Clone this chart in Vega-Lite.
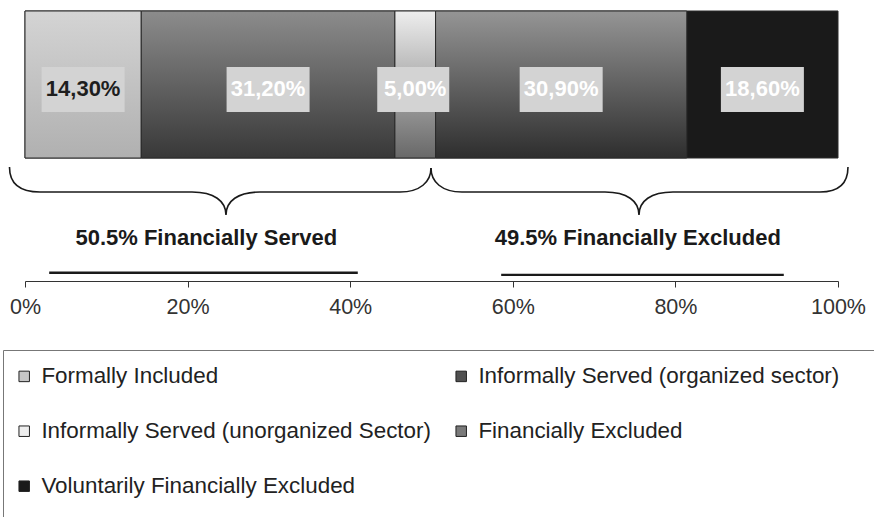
{
  "$schema": "https://vega.github.io/schema/vega-lite/v6.json",
  "width": 813,
  "height": 281,
  "autosize": {"type": "none"},
  "padding": {"left": 25, "top": 0, "right": 36, "bottom": 236},
  "background": "white",
  "config": {"view": {"stroke": null}, "font": "Liberation Sans"},
  "datasets": {
    "segments": [
      {"category": "Formally Included", "value": 14.3},
      {"category": "Informally Served (organized sector)", "value": 31.2},
      {"category": "Informally Served (unorganized Sector)", "value": 5.0},
      {"category": "Financially Excluded", "value": 30.9},
      {"category": "Voluntarily Financially Excluded", "value": 18.6}
    ],
    "braces": [
      {"label": "50.5% Financially Served", "from": 0, "to": 50.5},
      {"label": "49.5% Financially Excluded", "from": 50.5, "to": 100}
    ]
  },
  "data": {"name": "segments"},
  "transform": [
    {"window": [{"op": "row_number", "as": "idx"}]},
    {"stack": "value", "groupby": [], "sort": [{"field": "idx", "order": "ascending"}], "as": ["start", "end"]},
    {"calculate": "(datum.start + datum.end) / 2", "as": "mid"},
    {"calculate": "replace(format(datum.value, '.2f'), '.', ',') + '%'", "as": "label"},
    {"calculate": "'All'", "as": "group"}
  ],
  "layer": [
    {
      "mark": {"type": "bar", "stroke": "#2a2a2a", "strokeWidth": 1},
      "encoding": {
        "x": {
          "field": "start", "type": "quantitative",
          "scale": {"domain": [0, 100], "nice": false, "zero": false},
          "axis": {
            "values": [0, 20, 40, 60, 80, 100],
            "labelExpr": "datum.value + '%'",
            "title": null, "grid": false,
            "domainColor": "#333333", "tickColor": "#333333", "tickSize": 6,
            "labelFontSize": 21.5, "labelColor": "#333333", "labelPadding": 9,
            "labelFont": "Liberation Sans", "labelFlush": false
          }
        },
        "x2": {"field": "end"},
        "y": {
          "field": "group", "type": "nominal",
          "scale": {"range": [11, 158], "paddingInner": 0, "paddingOuter": 0},
          "axis": null
        },
        "color": {
          "field": "category", "type": "nominal",
          "scale": {
            "domain": ["Formally Included", "Informally Served (organized sector)", "Informally Served (unorganized Sector)", "Financially Excluded", "Voluntarily Financially Excluded"],
            "range": ["#c6c6c6", "#505050", "#eeeeee", "#7a7a7a", "#1a1a1a"]
          },
          "legend": {
            "orient": "none", "legendX": -22, "legendY": 350,
            "direction": "horizontal", "columns": 2, "gridAlign": "all",
            "title": [" ", " ", " ", " "],
            "titleOrient": "right", "titleFontSize": 10, "titleLineHeight": 60, "titlePadding": 40, "titleAnchor": "start", "titleLimit": 3000,
            "padding": 15, "strokeColor": "#777777", "fillColor": "white",
            "symbolType": "square", "symbolSize": 110, "symbolOffset": -5,
            "symbolStrokeColor": "#222222", "symbolStrokeWidth": 1, "symbolOpacity": 1,
            "labelFontSize": 22.4, "labelFont": "Liberation Sans", "labelColor": "#222222",
            "labelOffset": 6, "rowPadding": 32, "columnPadding": 22, "labelLimit": 600
          }
        }
      }
    },
    {
      "transform": [{"filter": "datum.category == 'Formally Included'"}],
      "mark": {"type": "bar", "stroke": "#2a2a2a", "strokeWidth": 1,
        "fill": {"gradient": "linear", "x1": 0, "y1": 0, "x2": 0, "y2": 1,
          "stops": [{"offset": 0, "color": "#d4d4d4"}, {"offset": 1, "color": "#b0b0b0"}]}},
      "encoding": {
        "x": {"field": "start", "type": "quantitative"},
        "x2": {"field": "end"},
        "y": {"field": "group", "type": "nominal"}
      }
    },
    {
      "transform": [{"filter": "datum.category == 'Informally Served (organized sector)'"}],
      "mark": {"type": "bar", "stroke": "#2a2a2a", "strokeWidth": 1,
        "fill": {"gradient": "linear", "x1": 0, "y1": 0, "x2": 0, "y2": 1,
          "stops": [{"offset": 0, "color": "#8c8c8c"}, {"offset": 1, "color": "#383838"}]}},
      "encoding": {
        "x": {"field": "start", "type": "quantitative"},
        "x2": {"field": "end"},
        "y": {"field": "group", "type": "nominal"}
      }
    },
    {
      "transform": [{"filter": "datum.category == 'Informally Served (unorganized Sector)'"}],
      "mark": {"type": "bar", "stroke": "#2a2a2a", "strokeWidth": 1,
        "fill": {"gradient": "linear", "x1": 0, "y1": 0, "x2": 0, "y2": 1,
          "stops": [{"offset": 0, "color": "#eeeeee"}, {"offset": 1, "color": "#686868"}]}},
      "encoding": {
        "x": {"field": "start", "type": "quantitative"},
        "x2": {"field": "end"},
        "y": {"field": "group", "type": "nominal"}
      }
    },
    {
      "transform": [{"filter": "datum.category == 'Financially Excluded'"}],
      "mark": {"type": "bar", "stroke": "#2a2a2a", "strokeWidth": 1,
        "fill": {"gradient": "linear", "x1": 0, "y1": 0, "x2": 0, "y2": 1,
          "stops": [{"offset": 0, "color": "#959595"}, {"offset": 1, "color": "#2e2e2e"}]}},
      "encoding": {
        "x": {"field": "start", "type": "quantitative"},
        "x2": {"field": "end"},
        "y": {"field": "group", "type": "nominal"}
      }
    },
    {
      "mark": {"type": "point", "filled": true, "fill": "#d3d3d3", "opacity": 1, "strokeWidth": 0, "size": 4},
      "encoding": {
        "x": {"field": "mid", "type": "quantitative"},
        "y": {"field": "group", "type": "nominal"},
        "shape": {
          "condition": {"test": "datum.category == 'Informally Served (unorganized Sector)'", "value": "M -38 -17.5 H 34 V 27.5 H -38 Z"},
          "value": "M -41.5 -17.5 H 41.5 V 27.5 H -41.5 Z"
        }
      }
    },
    {
      "mark": {"type": "text", "font": "Liberation Sans", "fontWeight": "bold", "fontSize": 22, "baseline": "alphabetic", "align": "center", "dy": 11.5},
      "encoding": {
        "x": {"field": "mid", "type": "quantitative"},
        "y": {"field": "group", "type": "nominal"},
        "text": {"field": "label"},
        "color": {"condition": {"test": "datum.category == 'Formally Included'", "value": "#1e1e1e"}, "value": "#ffffff"}
      }
    },
    {
      "data": {"name": "braces"},
      "transform": [{"calculate": "(datum.from + datum.to) / 2", "as": "mid"}],
      "mark": {"type": "point", "filled": false, "stroke": "#1a1a1a", "strokeWidth": 1.6, "opacity": 1, "size": 4},
      "encoding": {
        "x": {"field": "mid", "type": "quantitative"},
        "shape": {
          "condition": {"test": "datum.from == 0", "value": "M -220.8 26.5 C -220.8 41.5 -212.3 51.5 -190.3 51.5 L -38.3 51.5 C -16.3 51.5 -4.3 60.5 -4.3 74.5 C -4.3 60.5 7.7 51.5 29.7 51.5 L 169.7 51.5 C 189.7 51.5 200.7 41.5 200.7 27.5 M -180.3 131.9 H 126.7 V 132.6 H -180.3 Z"},
          "value": "M -205.8 27.5 C -205.8 41.5 -194.8 51.5 -174.8 51.5 L -31.8 51.5 C -9.8 51.5 2.2 60.5 2.2 74.5 C 2.2 60.5 14.2 51.5 36.2 51.5 L 183.2 51.5 C 203.2 51.5 211.2 41.5 211.2 26.5 M -134.8 134.1 H 146.2 V 134.8 H -134.8 Z"
        }
      }
    },
    {
      "data": {"name": "braces"},
      "transform": [{"filter": "datum.from == 0"}, {"calculate": "(datum.from + datum.to) / 2", "as": "mid"}],
      "mark": {"type": "text", "font": "Liberation Sans", "fontWeight": "bold", "fontSize": 22, "baseline": "alphabetic", "align": "center", "dx": -24, "dy": 104.5, "color": "#1a1a1a"},
      "encoding": {
        "x": {"field": "mid", "type": "quantitative"},
        "text": {"field": "label"}
      }
    },
    {
      "data": {"name": "braces"},
      "transform": [{"filter": "datum.from > 0"}, {"calculate": "(datum.from + datum.to) / 2", "as": "mid"}],
      "mark": {"type": "text", "font": "Liberation Sans", "fontWeight": "bold", "fontSize": 22, "baseline": "alphabetic", "align": "center", "dx": 1, "dy": 104.5, "color": "#1a1a1a"},
      "encoding": {
        "x": {"field": "mid", "type": "quantitative"},
        "text": {"field": "label"}
      }
    }
  ]
}
